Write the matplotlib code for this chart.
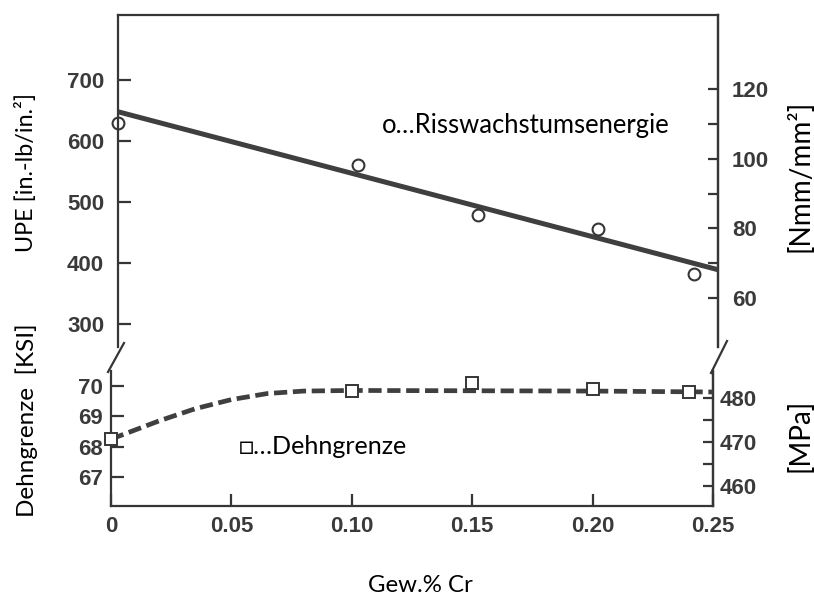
import matplotlib
matplotlib.use("Agg")
import matplotlib.pyplot as plt
from matplotlib.lines import Line2D

# ---------------- data ----------------
cr_upe = [0.0, 0.10, 0.15, 0.20, 0.24]          # Gew.% Cr
upe = [630, 561, 479, 456, 382]                  # in.-lb/in.^2
fit_x = [0.0, 0.25]
fit_upe = [648, 389]

cr_ys = [0.0, 0.10, 0.15, 0.20, 0.24]
ys_ksi = [68.24, 69.84, 70.10, 69.90, 69.80]    # KSI
curve_x = [0.0, 0.02, 0.035, 0.05, 0.065, 0.08, 0.10, 0.15, 0.20, 0.25]
curve_ksi = [68.25, 68.85, 69.25, 69.55, 69.75, 69.83, 69.85, 69.84, 69.83, 69.80]

x_ticks = [0, 0.05, 0.10, 0.15, 0.20, 0.25]
x_ticklabels = ["0", "0.05", "0.10", "0.15", "0.20", "0.25"]
upe_ticks = [300, 400, 500, 600, 700]
nmm_ticks = [60, 70, 80, 90, 100, 110, 120]
nmm_labels = ["60", "", "80", "", "100", "", "120"]
ksi_ticks = [67, 68, 69, 70]
mpa_ticks = [460, 465, 470, 475, 480]
mpa_labels = ["460", "", "470", "", "480"]

INLB_TO_NMM = 0.17513   # 1 in.-lb/in.^2 = 0.1751 N/mm
KSI_TO_MPA = 6.8948

# ---------------- figure ----------------
W, H = 814, 596
fig = plt.figure(figsize=(W / 100, H / 100), dpi=100)
ink = "#363636"
tick_ink = "#3a3a3a"
TICKFAM = "Liberation Sans"
TICKSIZE = 16


def fx(px):
    return px / W


def fy(py):
    return 1 - py / H


def style_ticks(a, axis, length, pad):
    a.tick_params(axis=axis, direction="in", length=length, width=1.6, color=ink,
                  pad=pad, labelsize=TICKSIZE, labelcolor=tick_ink,
                  labelfontfamily=TICKFAM)


ax1 = fig.add_axes([fx(118), fy(347), (718 - 118) / W, (347 - 15) / H])
ax2 = fig.add_axes([fx(111), fy(506), (713 - 111) / W, (506 - 371) / H])

for ax in (ax1, ax2):
    ax.set_xlim(0, 0.25)
    for s in ax.spines.values():
        s.set_linewidth(1.6)
        s.set_color(ink)
ax1.spines["bottom"].set_visible(False)
ax2.spines["top"].set_visible(False)

ax1.set_ylim(262.3, 806.6)
ax2.set_ylim(66.05, 70.49)

# upper panel
ax1.plot(fit_x, fit_upe, color="#3f3f3f", lw=3.6, solid_capstyle="butt", zorder=3)
ax1.plot(cr_upe, upe, ls="none", marker="o", ms=8.5, mfc="none", mec=ink, mew=1.5,
         zorder=4, clip_on=False)
ax1.set_xticks([])
ax1.set_yticks(upe_ticks, [str(t) for t in upe_ticks], fontweight="bold")
style_ticks(ax1, "y", 9, 10)

sec1 = ax1.secondary_yaxis("right", functions=(lambda v: v * INLB_TO_NMM,
                                               lambda v: v / INLB_TO_NMM))
sec1.set_yticks(nmm_ticks, nmm_labels, fontweight="bold")
style_ticks(sec1, "y", 7, 10)
sec1.spines["right"].set_linewidth(1.6)
sec1.spines["right"].set_color(ink)

# lower panel
ax2.plot(curve_x, curve_ksi, color="#3f3f3f", lw=3.4, dashes=(2.8, 1.2), zorder=3)
ax2.plot(cr_ys, ys_ksi, ls="none", marker="s", ms=9, mfc="white", mec=ink, mew=1.4,
         zorder=4, clip_on=False)
ax2.set_xticks(x_ticks, x_ticklabels, fontweight="bold")
ax2.set_yticks(ksi_ticks, [str(t) for t in ksi_ticks], fontweight="bold")
style_ticks(ax2, "x", 9, 7)
style_ticks(ax2, "y", 9, 6)

sec2 = ax2.secondary_yaxis("right", functions=(lambda v: v * KSI_TO_MPA,
                                               lambda v: v / KSI_TO_MPA))
sec2.set_yticks(mpa_ticks, mpa_labels, fontweight="bold")
style_ticks(sec2, "y", 7, 5)
sec2.spines["right"].set_linewidth(1.6)
sec2.spines["right"].set_color(ink)

# axis-break marks
for (x0, y0, x1, y1) in [(108, 372, 124, 343), (711, 373, 727, 341)]:
    fig.add_artist(Line2D([fx(x0), fx(x1)], [fy(y0), fy(y1)], color=ink, lw=1.6,
                          transform=fig.transFigure))

# ---------------- texts ----------------
txtfont = ["Lato", "DejaVu Sans"]
fig.canvas.draw()
renderer = fig.canvas.get_renderer()


def fitted(s, x, y, rot, target, size=None):
    t = fig.text(fx(x), fy(y), s, rotation=rot, family=txtfont, fontsize=14,
                 ha="center", va="center", color="black")
    if size is None:
        bb = t.get_window_extent(renderer)
        length = bb.height if rot == 90 else bb.width
        size = 14 * target / length
    t.set_fontsize(size)
    return size


left_size = fitted("UPE [in.-lb/in.²]", 26, 172, 90, 160)
fitted("Dehngrenze  [KSI]", 27, 420, 90, None, size=left_size * 1.04)
right_size = fitted("[Nmm/mm²]", 800, 176, 90, 152)
fitted("[MPa]", 800, 435, 90, None, size=right_size)
fitted("Gew.% Cr", 420, 585, 0, 105)
fitted("o…Risswachstumsenergie", 526, 125, 0, 288)
fitted("□…Dehngrenze", 323, 446, 0, 169)

fig.savefig("out.png", dpi=100)
